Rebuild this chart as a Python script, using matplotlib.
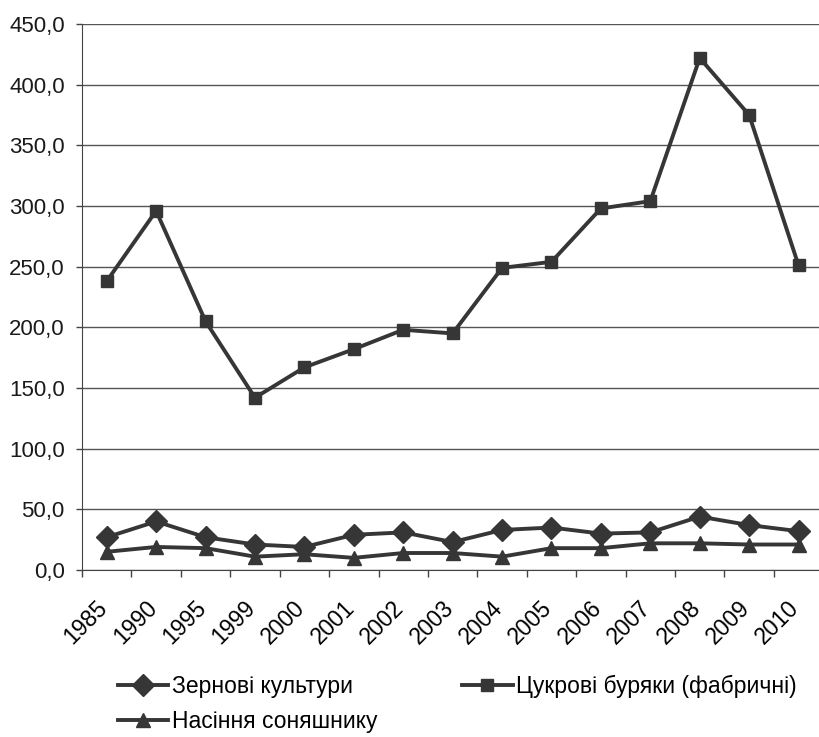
import matplotlib
matplotlib.use('Agg')
import matplotlib.pyplot as plt
from matplotlib.ticker import FixedLocator, FuncFormatter
from matplotlib.transforms import ScaledTranslation
import numpy as np

years = ['1985', '1990', '1995', '1999', '2000', '2001', '2002', '2003',
         '2004', '2005', '2006', '2007', '2008', '2009', '2010']
grain = [27, 40, 27, 21, 19, 29, 31, 23, 33, 35, 30, 31, 44, 37, 32]
sugar_beet = [238, 296, 205, 142, 167, 182, 198, 195, 249, 254, 298, 304, 422, 375, 251]
sunflower = [15, 19, 18, 11, 13, 10, 14, 14, 11, 18, 18, 22, 22, 21, 21]

plt.rcParams['font.family'] = ['Liberation Sans', 'DejaVu Sans']
col = '#363636'

fig = plt.figure(figsize=(8.2, 7.37), dpi=100)
ax = fig.add_axes([0.1, 0.2266, 0.904, 0.7408])
x = np.arange(len(years))

l1, = ax.plot(x, grain, color=col, lw=2.8, marker='D', ms=11, label='Зернові культури')
l3, = ax.plot(x, sunflower, color=col, lw=2.8, marker='^', ms=10, label='Насіння соняшнику')
l2, = ax.plot(x, sugar_beet, color=col, lw=2.8, marker='s', ms=8, label='Цукрові буряки (фабричні)')

ax.set_ylim(0, 450)
ax.set_xlim(-0.5, len(years) - 0.5)
ax.set_yticks(np.arange(0, 451, 50))
ax.yaxis.set_major_formatter(FuncFormatter(lambda v, p: f'{v:.1f}'.replace('.', ',')))
ax.grid(axis='y', color='#555555', lw=1.0)
ax.set_axisbelow(True)
ax.set_xticks(x)
ax.set_xticklabels(years, rotation=45, ha='right', rotation_mode='anchor')
ax.tick_params(axis='x', length=0, labelsize=16.5, pad=8)
ax.xaxis.set_minor_locator(FixedLocator(np.arange(-0.5, len(years), 1)))
ax.tick_params(axis='x', which='minor', length=5, width=1, color='#444444')
ax.tick_params(axis='y', length=4, width=1, color='#444444', labelsize=16, pad=8.5, colors='#1a1a1a')
shift = ScaledTranslation(-0.11, -0.15, fig.dpi_scale_trans)
for lab in ax.get_xticklabels():
    lab.set_transform(lab.get_transform() + shift)
for s in ['top', 'right']:
    ax.spines[s].set_visible(False)
ax.spines['left'].set_color('#444444')
ax.spines['bottom'].set_color('#444444')

fig.legend(handles=[l1, l3, l2], ncol=2, loc='upper left', bbox_to_anchor=(0.144, 0.084),
           frameon=False, fontsize=16.5, handlelength=2.2, handletextpad=0.15,
           columnspacing=3.7, labelspacing=0.5, borderpad=0, borderaxespad=0)

fig.savefig('out.png', dpi=100)
